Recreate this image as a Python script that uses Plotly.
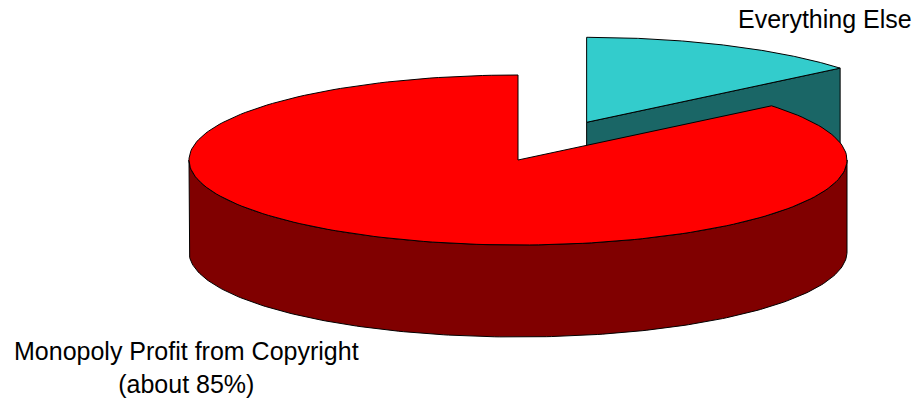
import numpy as np
import plotly.graph_objects as go

# ---- data ----
labels = ["Everything Else", "Monopoly Profit from Copyright"]
values = [14, 86]
top_colors = ["#33CCCC", "#FF0000"]
side_colors = ["#1A6666", "#800000"]
explode = [0.49, 0.0]

# ---- 3D pie geometry (pixel space) ----
cx, cy, rx, ry, depth = 518, 160, 329, 85, 92
start = 90.0

total = float(sum(values))
spans = []
a = start
for v in values:
    a1 = a - 360.0 * v / total
    spans.append((a, a1))  # clockwise: from a down to a1
    a = a1


def pt(t, dx, dy, z=0.0):
    r = np.radians(t)
    return cx + dx + rx * np.cos(r), cy + dy - ry * np.sin(r) + z


def arc(t0, t1, dx, dy, z=0.0, n=200):
    ts = np.linspace(t0, t1, n)
    xs, ys = zip(*[pt(t, dx, dy, z) for t in ts])
    return list(xs), list(ys)


fig = go.Figure()


def poly(xs, ys, color):
    fig.add_trace(go.Scatter(x=list(xs) + [xs[0]], y=list(ys) + [ys[0]], mode="lines",
                             fill="toself", fillcolor=color,
                             line=dict(color="black", width=1), hoverinfo="skip",
                             showlegend=False))


offsets = []
for (t0, t1), e in zip(spans, explode):
    m = np.radians((t0 + t1) / 2)
    offsets.append((e * rx * np.cos(m), -e * ry * np.sin(m)))

# back slice first (Everything Else), then front slice
for i in [0, 1]:
    t0, t1 = spans[i]
    dx, dy = offsets[i]
    apx, apy = cx + dx, cy + dy
    # cut face at the clockwise end angle (faces the viewer for the back slice)
    if i == 0:
        ex, ey = pt(t1, dx, dy)
        poly([apx, ex, ex, apx], [apy, ey, ey + depth, apy + depth], side_colors[i])
    # front outer wall (visible where sin t < 0)
    lo, hi = max(min(t0, t1), -180.0), min(max(t0, t1), 0.0)
    if i == 1 and hi > lo:
        xt, yt = arc(hi, lo, dx, dy)
        xb, yb = arc(lo, hi, dx, dy, depth)
        poly(xt + xb, yt + yb, side_colors[i])
    # top face
    xa, ya = arc(t0, t1, dx, dy)
    poly([apx] + xa, [apy] + ya, top_colors[i])

fig.add_annotation(x=736, y=19, xref="x", yref="y", text=labels[0], showarrow=False,
                   xanchor="left", yanchor="middle",
                   font=dict(family="Liberation Sans, Arial", size=25, color="black"))
fig.add_annotation(x=186, y=367, xref="x", yref="y",
                   text=labels[1] + "<br>(about %d%%)" % 85, showarrow=False,
                   xanchor="center", yanchor="middle", align="center",
                   font=dict(family="Liberation Sans, Arial", size=25, color="black"))

fig.update_layout(width=917, height=400, margin=dict(l=0, r=0, t=0, b=0),
                  paper_bgcolor="white", plot_bgcolor="white",
                  xaxis=dict(range=[0, 917], visible=False, fixedrange=True),
                  yaxis=dict(range=[400, 0], visible=False, fixedrange=True))
fig.write_html("out.html")
